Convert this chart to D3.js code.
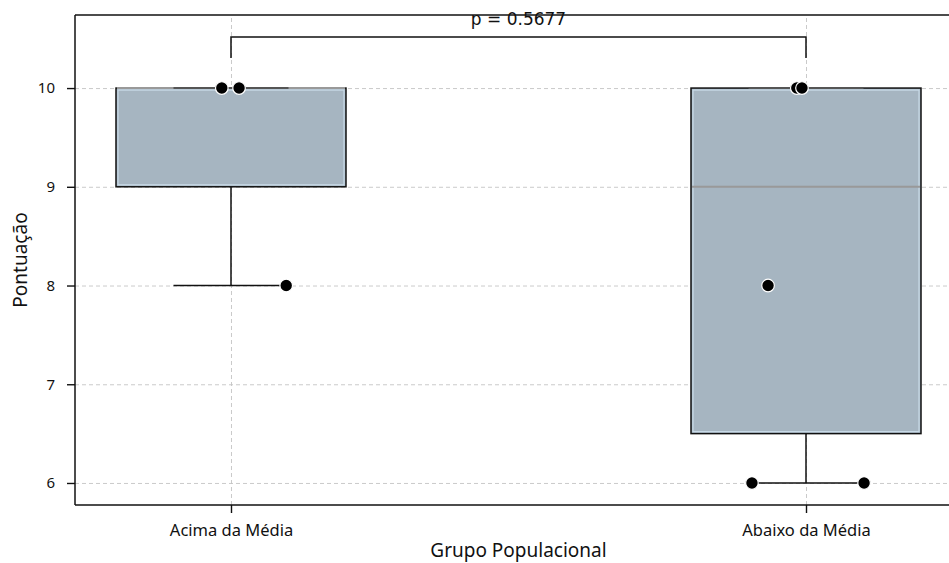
<!DOCTYPE html>
<html>
<head>
    <meta charset="utf-8">
    <script src="https://cdnjs.cloudflare.com/ajax/libs/d3/7.8.5/d3.min.js"></script>
    <style>
        body { margin: 0; background: #fff; }
        .grid line { stroke: #c4c4c4; stroke-dasharray: 4,3; stroke-width: 0.9; }
        .grid path { display: none; }
        .tick text { font-family: "Noto Sans", sans-serif; fill: #111; }
        .y-axis .tick text { font-size: 15px; }
        .x-axis .tick text { font-size: 16.5px; }
        .axis-label { font-family: "Noto Sans", sans-serif; font-size: 19px; fill: #111; }
        .pval { font-family: "DejaVu Sans", sans-serif; font-size: 17px; fill: #111; }
    </style>
</head>
<body>
    <div id="chart"></div>
    <script>
        // groups and box statistics
        const groups = ['Acima da Média', 'Abaixo da Média'];
        const q1 = [9, 6.5];
        const q3 = [10, 10];
        const medians = [10, 9];
        const whiskLow = [8, 6];
        const whiskHigh = [10, 10];
        // individual points (jittered strip plot): group index, jitter offset, value
        const pointGroup = [0, 0, 0, 1, 1, 1, 1, 1];
        const pointJitter = [-0.016, 0.014, 0.096, -0.016, -0.007, -0.066, -0.094, 0.101];
        const pointValue = [10, 10, 8, 10, 10, 8, 6, 6];
        const yTicks = [6, 7, 8, 9, 10];
        const pText = 'p = 0.5677';

        const W = 949, H = 563;
        const plot = { left: 75, right: 962, top: 15, bottom: 505 };

        const svg = d3.select('#chart').append('svg')
            .attr('width', W).attr('height', H);

        // linear x in category units so the plot can be cropped at the right like the original
        const x = d3.scaleLinear().domain([-0.2713, 1.2713]).range([plot.left, plot.right]);
        const y = d3.scaleLinear().domain([5.777, 10.74]).range([plot.bottom, plot.top]);
        const boxHalf = x(0.2) - x(0);
        const capHalf = x(0.1) - x(0);

        // grid
        svg.append('g').attr('class', 'grid')
            .attr('transform', `translate(${plot.left},0)`)
            .call(d3.axisLeft(y).tickValues(yTicks).tickSize(-(plot.right - plot.left)).tickFormat(''));
        svg.append('g').attr('class', 'grid')
            .attr('transform', `translate(0,${plot.bottom})`)
            .call(d3.axisBottom(x).tickValues([0, 1]).tickSize(-(plot.bottom - plot.top)).tickFormat(''));

        // whiskers
        groups.forEach((g, i) => {
            const cx = x(i);
            const wg = svg.append('g').attr('stroke', '#111').attr('stroke-width', 1.5);
            wg.append('line').attr('x1', cx).attr('x2', cx).attr('y1', y(q1[i])).attr('y2', y(whiskLow[i]));
            wg.append('line').attr('x1', cx).attr('x2', cx).attr('y1', y(q3[i])).attr('y2', y(whiskHigh[i]));
            wg.append('line').attr('x1', cx - capHalf).attr('x2', cx + capHalf).attr('y1', y(whiskLow[i])).attr('y2', y(whiskLow[i]));
        });

        // boxes
        groups.forEach((g, i) => {
            const cx = x(i);
            svg.append('rect')
                .attr('x', cx - boxHalf).attr('y', y(q3[i]))
                .attr('width', boxHalf * 2).attr('height', y(q1[i]) - y(q3[i]))
                .attr('fill', '#a6b5c1').attr('stroke', '#111').attr('stroke-width', 1.5);
            svg.append('rect')
                .attr('x', cx - boxHalf + 2).attr('y', y(q3[i]) + 2)
                .attr('width', boxHalf * 2 - 4).attr('height', y(q1[i]) - y(q3[i]) - 4)
                .attr('fill', 'none').attr('stroke', '#c9dbe8').attr('stroke-width', 1.2);
            svg.append('line')
                .attr('x1', cx - boxHalf + 1).attr('x2', cx + boxHalf - 1)
                .attr('y1', y(medians[i])).attr('y2', y(medians[i]))
                .attr('stroke', '#999').attr('stroke-width', 2);
        });
        // upper caps drawn on top of the box edge
        groups.forEach((g, i) => {
            svg.append('line')
                .attr('x1', x(i) - capHalf).attr('x2', x(i) + capHalf)
                .attr('y1', y(whiskHigh[i])).attr('y2', y(whiskHigh[i]))
                .attr('stroke', '#555').attr('stroke-width', 2);
        });

        // points
        svg.selectAll('.pt').data(pointValue).enter().append('circle')
            .attr('class', 'pt')
            .attr('cx', (d, i) => x(pointGroup[i] + pointJitter[i]))
            .attr('cy', d => y(d))
            .attr('r', 6.3)
            .attr('fill', '#000').attr('stroke', '#fff').attr('stroke-width', 1.2);

        // spines
        const sp = svg.append('g').attr('stroke', '#111').attr('stroke-width', 1.5).attr('fill', 'none');
        sp.append('line').attr('x1', plot.left).attr('x2', plot.left).attr('y1', plot.top).attr('y2', plot.bottom);
        sp.append('line').attr('x1', plot.left).attr('x2', plot.right).attr('y1', plot.top).attr('y2', plot.top);
        sp.append('line').attr('x1', plot.left).attr('x2', plot.right).attr('y1', plot.bottom).attr('y2', plot.bottom);

        // axes
        const yAxis = svg.append('g').attr('class', 'y-axis').attr('transform', `translate(${plot.left},0)`)
            .call(d3.axisLeft(y).tickValues(yTicks).tickSize(8).tickPadding(12).tickFormat(d3.format('d')));
        yAxis.select('.domain').remove();
        yAxis.selectAll('.tick line').attr('stroke', '#111').attr('stroke-width', 1.4);

        const xAxis = svg.append('g').attr('class', 'x-axis').attr('transform', `translate(0,${plot.bottom})`)
            .call(d3.axisBottom(x).tickValues([0, 1]).tickSize(8).tickPadding(11).tickFormat(d => groups[d]));
        xAxis.select('.domain').remove();
        xAxis.selectAll('.tick line').attr('stroke', '#111').attr('stroke-width', 1.4);

        // significance bracket
        const by = 37, bdrop = 58;
        svg.append('path')
            .attr('d', `M${x(0)},${bdrop}V${by}H${x(1)}V${bdrop}`)
            .attr('fill', 'none').attr('stroke', '#111').attr('stroke-width', 1.5);
        svg.append('text').attr('class', 'pval')
            .attr('x', (x(0) + x(1)) / 2).attr('y', 25)
            .attr('text-anchor', 'middle').text(pText);

        // axis labels
        svg.append('text').attr('class', 'axis-label')
            .attr('x', (plot.left + plot.right) / 2).attr('y', 557)
            .attr('text-anchor', 'middle').text('Grupo Populacional');
        svg.append('text').attr('class', 'axis-label')
            .attr('transform', `translate(27,${(plot.top + plot.bottom) / 2}) rotate(-90)`)
            .attr('text-anchor', 'middle').text('Pontuação');
    </script>
</body>
</html>
